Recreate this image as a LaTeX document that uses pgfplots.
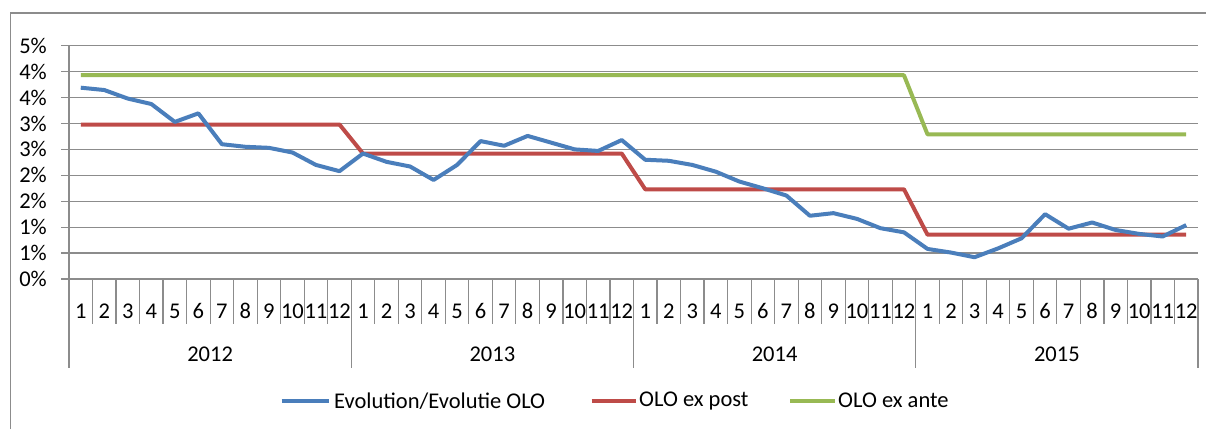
\documentclass[border=0pt]{standalone}
\usepackage{pgfplots}
\pgfplotsset{compat=1.18}
\usepackage{fontspec}
\setmainfont{Carlito}
\definecolor{cblue}{RGB}{74,126,187}
\definecolor{cred}{RGB}{190,75,72}
\definecolor{cgreen}{RGB}{152,185,84}
\definecolor{cgrid}{RGB}{140,140,140}
\newcommand{\cfont}{\fontsize{22.5bp}{27bp}\selectfont}
\begin{document}
\cfont
\begin{tikzpicture}[x=1bp,y=1bp]
\useasboundingbox (0,0) rectangle (1206,429);
\draw[cgrid, line width=1.2bp] (10.7,0) -- (10.7,416) -- (1206,416);
\begin{axis}[at={(69bp,150bp)}, anchor=south west, scale only axis,
  width=1129bp, height=233.3bp,
  xmin=0.5, xmax=48.5, ymin=0, ymax=4.5,
  axis x line*=bottom, axis y line*=left,
  axis line style={cgrid, line width=1.2bp, -},
  ytick={0,0.5,1,1.5,2,2.5,3,3.5,4,4.5},
  yticklabels={0\%,1\%,1\%,2\%,2\%,3\%,3\%,4\%,4\%,5\%},
  ymajorgrids, grid style={cgrid, line width=1.2bp},
  tick align=outside, major tick length=8bp,
  ytick style={cgrid, line width=1.2bp},
  yticklabel style={font=\cfont, inner sep=0pt, anchor=east, xshift=-14bp},
  xtick={1,...,48},
  xticklabels={1,2,3,4,5,6,7,8,9,10,11,12,1,2,3,4,5,6,7,8,9,10,11,12,1,2,3,4,5,6,7,8,9,10,11,12,1,2,3,4,5,6,7,8,9,10,11,12},
  xtick style={draw=none},
  xticklabel style={font=\cfont, inner sep=0pt, anchor=center, yshift=-24bp},
  clip=false,
]
\pgfplotsinvokeforeach{0.5,1.5,...,48.5}{
  \draw[cgrid, line width=1.2bp] (axis cs:#1,0) -- ([yshift=-45bp]axis cs:#1,0);
}
\pgfplotsinvokeforeach{0.5,12.5,24.5,36.5,48.5}{
  \draw[cgrid, line width=1.2bp] (axis cs:#1,0) -- ([yshift=-89bp]axis cs:#1,0);
}
\node[inner sep=0pt] at ([yshift=-75bp]axis cs:6.5,0) {2012};
\node[inner sep=0pt] at ([yshift=-75bp]axis cs:18.5,0) {2013};
\node[inner sep=0pt] at ([yshift=-75bp]axis cs:30.5,0) {2014};
\node[inner sep=0pt] at ([yshift=-75bp]axis cs:42.5,0) {2015};
\addplot[cgreen, line width=4bp, line join=round] coordinates {
(1,3.93)(2,3.93)(3,3.93)(4,3.93)(5,3.93)(6,3.93)(7,3.93)(8,3.93)(9,3.93)(10,3.93)(11,3.93)(12,3.93)
(13,3.93)(14,3.93)(15,3.93)(16,3.93)(17,3.93)(18,3.93)(19,3.93)(20,3.93)(21,3.93)(22,3.93)(23,3.93)(24,3.93)
(25,3.93)(26,3.93)(27,3.93)(28,3.93)(29,3.93)(30,3.93)(31,3.93)(32,3.93)(33,3.93)(34,3.93)(35,3.93)(36,3.93)
(37,2.79)(38,2.79)(39,2.79)(40,2.79)(41,2.79)(42,2.79)(43,2.79)(44,2.79)(45,2.79)(46,2.79)(47,2.79)(48,2.79)};
\addplot[cred, line width=4bp, line join=round] coordinates {
(1,2.98)(2,2.98)(3,2.98)(4,2.98)(5,2.98)(6,2.98)(7,2.98)(8,2.98)(9,2.98)(10,2.98)(11,2.98)(12,2.98)
(13,2.42)(14,2.42)(15,2.42)(16,2.42)(17,2.42)(18,2.42)(19,2.42)(20,2.42)(21,2.42)(22,2.42)(23,2.42)(24,2.42)
(25,1.73)(26,1.73)(27,1.73)(28,1.73)(29,1.73)(30,1.73)(31,1.73)(32,1.73)(33,1.73)(34,1.73)(35,1.73)(36,1.73)
(37,0.855)(38,0.855)(39,0.855)(40,0.855)(41,0.855)(42,0.855)(43,0.855)(44,0.855)(45,0.855)(46,0.855)(47,0.855)(48,0.855)};
\addplot[cblue, line width=4bp, line join=round] coordinates {
(1,3.69)(2,3.645)(3,3.48)(4,3.375)(5,3.03)(6,3.195)(7,2.60)(8,2.55)(9,2.53)(10,2.44)(11,2.20)(12,2.08)
(13,2.42)(14,2.26)(15,2.17)(16,1.91)(17,2.20)(18,2.66)(19,2.57)(20,2.76)(21,2.63)(22,2.50)(23,2.47)(24,2.68)
(25,2.30)(26,2.28)(27,2.20)(28,2.07)(29,1.88)(30,1.75)(31,1.61)(32,1.22)(33,1.27)(34,1.16)(35,0.98)(36,0.90)
(37,0.58)(38,0.51)(39,0.42)(40,0.59)(41,0.785)(42,1.25)(43,0.97)(44,1.09)(45,0.945)(46,0.87)(47,0.82)(48,1.04)};
\end{axis}
% legend
\draw[cblue, line width=4bp] (281.7,28.3) -- (329.3,28.3);
\node[anchor=west, inner sep=0pt] at (334,28.3) {Evolution/Evolutie OLO};
\draw[cred, line width=4bp] (591.7,28.3) -- (636,28.3);
\node[anchor=west, inner sep=0pt] at (639,28.3) {OLO ex post};
\draw[cgreen, line width=4bp] (790,28.3) -- (835,28.3);
\node[anchor=west, inner sep=0pt] at (838,28.3) {OLO ex ante};
\end{tikzpicture}
\end{document}
